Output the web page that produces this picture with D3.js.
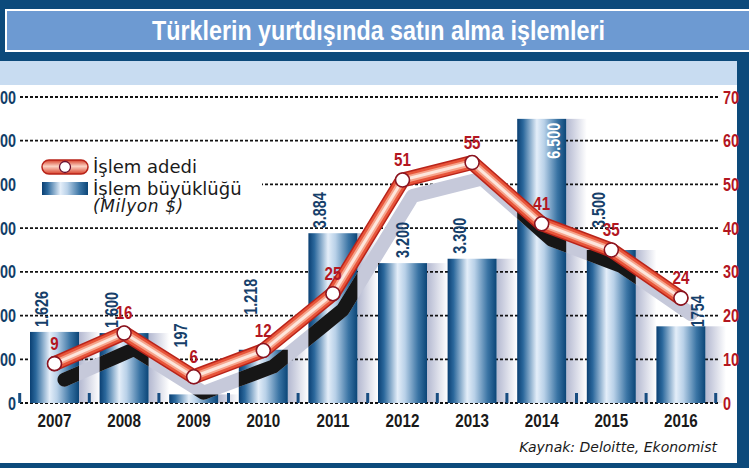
<!DOCTYPE html>
<html>
<head>
<meta charset="utf-8">
<script src="https://cdn.jsdelivr.net/npm/d3@7/dist/d3.min.js"></script>
<style>
  body { margin: 0; background: #fff; }
  .cond { font-family: "Liberation Sans", Arial, sans-serif; font-weight: bold; }
  .sans { font-family: "DejaVu Sans", Verdana, sans-serif; }
</style>
</head>
<body>
<svg id="chart"></svg>
<script>
// ---- data ----
var years = ["2007", "2008", "2009", "2010", "2011", "2012", "2013", "2014", "2015", "2016"];
var dealSize = [1626, 1600, 197, 1218, 3884, 3200, 3300, 6500, 3500, 1754];   // Milyon $
var dealSizeLabels = ["1.626", "1.600", "197", "1.218", "3.884", "3.200", "3.300", "6.500", "3.500", "1754"];
var dealCount = [9, 16, 6, 12, 25, 51, 55, 41, 35, 24];
var leftTicks = [0, 1000, 2000, 3000, 4000, 5000, 6000, 7000];
var rightTicks = [0, 10, 20, 30, 40, 50, 60, 70];

var W = 749, H = 468;
var plot = {left: 20, right: 719, top: 97, bottom: 403};
var squeeze = 0.8; // condensed look for the bold numbers
// where the printed value label of a bar sits (default: left part, just above the bar)
var labelSpot = {"2012": "mid", "2014": "inside", "2016": "right"};
var labelLift = {"2009": 47, "2010": 35, "2015": 22, "2016": -1};

var svg = d3.select("#chart").attr("width", W).attr("height", H);
var defs = svg.append("defs");

// place a condensed text: translate, optional rotate, then horizontal squeeze
function place(sel, fx, fy, rot) {
  sel.attr("transform", function(d, i) {
    return "translate(" + fx(d, i) + "," + fy(d, i) + ")" + (rot ? " rotate(" + rot + ")" : "") +
      " scale(" + squeeze + ",1)";
  });
}

// bar gradient (cylinder look)
var g1 = defs.append("linearGradient").attr("id", "barGrad").attr("x1", 0).attr("x2", 1).attr("y1", 0).attr("y2", 0);
[[0, "#0a3f72"], [0.12, "#2b689c"], [0.4, "#e4eef9"], [0.55, "#b9d1e8"], [0.82, "#3a74a4"], [1, "#0b4577"]]
  .forEach(function(s) { g1.append("stop").attr("offset", s[0]).attr("stop-color", s[1]); });

// side shadow gradient
var g2 = defs.append("linearGradient").attr("id", "sideGrad").attr("x1", 0).attr("x2", 1).attr("y1", 0).attr("y2", 0);
[[0, "#b3b8d0"], [1, "#ffffff"]]
  .forEach(function(s) { g2.append("stop").attr("offset", s[0]).attr("stop-color", s[1]); });

// pill gradient for legend
var g3 = defs.append("linearGradient").attr("id", "pillGrad").attr("x1", 0).attr("x2", 0).attr("y1", 0).attr("y2", 1);
[[0, "#d8402a"], [0.45, "#fbd3c4"], [1, "#d8402a"]]
  .forEach(function(s) { g3.append("stop").attr("offset", s[0]).attr("stop-color", s[1]); });

// ---- frame ----
svg.append("rect").attr("width", W).attr("height", H).attr("fill", "#0c4a7b");
svg.append("rect").attr("x", 0).attr("y", 85).attr("width", 737).attr("height", 378).attr("fill", "#fff");
svg.append("rect").attr("x", 0).attr("y", 61).attr("width", 737).attr("height", 24).attr("fill", "#c8dcf1");
svg.append("rect").attr("x", 6).attr("y", 10).attr("width", 760).attr("height", 41)
  .attr("fill", "#6d9ad2").attr("stroke", "#fff").attr("stroke-width", 2);

svg.append("text")
  .attr("class", "cond")
  .attr("x", 152).attr("y", 40)
  .attr("fill", "#fff")
  .attr("textLength", 453)
  .attr("lengthAdjust", "spacingAndGlyphs")
  .style("font-size", "27px")
  .text("Türklerin yurtdışında satın alma işlemleri");

// ---- scales ----
var x = d3.scaleBand()
  .domain(years)
  .range([30, 30 + 10 * 69.6 - 20.6])
  .paddingInner(0.296)
  .paddingOuter(0);

var yL = d3.scaleLinear().domain([0, 7000]).range([plot.bottom, plot.top]);
var yR = d3.scaleLinear().domain([0, 70]).range([plot.bottom, plot.top]);

var gap = x.step() - x.bandwidth();

// side shadows of bars (drawn under gridlines)
svg.append("g").selectAll("rect")
  .data(years)
  .join("rect")
  .attr("x", function(d) { return x(d) + x.bandwidth(); })
  .attr("y", function(d, i) { return yL(dealSize[i]); })
  .attr("width", gap)
  .attr("height", function(d, i) { return yL(0) - yL(dealSize[i]); })
  .attr("fill", "url(#sideGrad)");

// gridlines
svg.append("g").selectAll("line")
  .data(rightTicks)
  .join("line")
  .attr("x1", plot.left).attr("x2", plot.right)
  .attr("y1", function(d) { return yR(d); })
  .attr("y2", function(d) { return yR(d); })
  .attr("stroke", "#111")
  .attr("stroke-width", 1.8)
  .attr("stroke-dasharray", "3,2");

// left axis (cut off by the page edge, as in the print)
svg.append("g").selectAll("text")
  .data(leftTicks)
  .join("text")
  .attr("class", "cond")
  .attr("text-anchor", "end")
  .attr("fill", "#123e68")
  .style("font-size", "18px")
  .text(function(d) { return d === 0 ? "0" : d3.format(",")(d).replace(",", "."); })
  .call(place, function() { return 16; }, function(d) { return yL(d) + 6.5; });

// right axis
svg.append("g").selectAll("text")
  .data(rightTicks)
  .join("text")
  .attr("class", "cond")
  .attr("fill", "#b3161f")
  .style("font-size", "18px")
  .text(function(d) { return d; })
  .call(place, function() { return 723; }, function(d) { return yR(d) + 6.5; });

// bars
svg.append("g").selectAll("rect")
  .data(years)
  .join("rect")
  .attr("x", function(d) { return x(d); })
  .attr("y", function(d, i) { return yL(dealSize[i]); })
  .attr("width", x.bandwidth())
  .attr("height", function(d, i) { return yL(0) - yL(dealSize[i]); })
  .attr("fill", "url(#barGrad)");

// small baseline ticks between the bars
var tickXs = years.map(function(d) { return x(d) - gap / 2; });
tickXs.push(x(years[years.length - 1]) + x.bandwidth() + gap / 2);
svg.append("g").selectAll("rect")
  .data(tickXs)
  .join("rect")
  .attr("x", function(d) { return d - 1.5; })
  .attr("y", plot.bottom - 10)
  .attr("width", 3)
  .attr("height", 10)
  .attr("fill", "#184d80");

// clip so the line shadow turns black over the bars
var clip = defs.append("clipPath").attr("id", "barClip");
clip.selectAll("rect")
  .data(years)
  .join("rect")
  .attr("x", function(d) { return x(d); })
  .attr("y", function(d, i) { return yL(dealSize[i]); })
  .attr("width", x.bandwidth())
  .attr("height", function(d, i) { return yL(0) - yL(dealSize[i]); });

// ---- line: number of deals ----
var pts = years.map(function(d, i) { return [x(d) + x.bandwidth() / 2, yR(dealCount[i])]; });
var line = d3.line().curve(d3.curveLinear);
var shadowPts = pts.map(function(p) { return [p[0] + 10, p[1] + 16]; });

svg.append("path")
  .attr("d", line(shadowPts))
  .attr("fill", "none")
  .attr("stroke", "#c6c9da")
  .attr("stroke-width", 14)
  .attr("stroke-linejoin", "round")
  .attr("stroke-linecap", "round");

svg.append("path")
  .attr("d", line(shadowPts))
  .attr("clip-path", "url(#barClip)")
  .attr("fill", "none")
  .attr("stroke", "#161616")
  .attr("stroke-width", 14)
  .attr("stroke-linejoin", "round")
  .attr("stroke-linecap", "round");

// bar value labels (rotated), above the shadow, under the red line
function spot(d) { return labelSpot[d] || "left"; }
function lift(d) { return labelLift[d] !== undefined ? labelLift[d] : 5; }
svg.append("g").selectAll("text")
  .data(years)
  .join("text")
  .attr("class", "cond")
  .attr("text-anchor", function(d) { return spot(d) === "inside" ? "end" : "start"; })
  .attr("fill", function(d) { return spot(d) === "inside" ? "#fff" : "#163f6a"; })
  .style("font-size", "18px")
  .text(function(d, i) { return dealSizeLabels[i]; })
  .call(place,
    function(d) {
      var s = spot(d);
      if (s === "inside") return x(d) + x.bandwidth() - 6;
      if (s === "mid") return x(d) + x.bandwidth() / 2 + 6.5;
      if (s === "right") return x(d) + x.bandwidth() - 1;
      return x(d) + 18;
    },
    function(d, i) {
      if (spot(d) === "inside") return yL(dealSize[i]) + 4;
      return yL(dealSize[i]) - lift(d);
    },
    -90);

[[15, "#b8241a"], [12, "#e8553a"], [7, "#f6a48c"], [3, "#fde6dc"]].forEach(function(s) {
  svg.append("path")
    .attr("d", line(pts))
    .attr("fill", "none")
    .attr("stroke", s[1])
    .attr("stroke-width", s[0])
    .attr("stroke-linejoin", "round")
    .attr("stroke-linecap", "round");
});

svg.append("g").selectAll("circle")
  .data(pts)
  .join("circle")
  .attr("cx", function(d) { return d[0]; })
  .attr("cy", function(d) { return d[1]; })
  .attr("r", 7)
  .attr("fill", "#fff")
  .attr("stroke", "#8a1420")
  .attr("stroke-width", 1.6);

svg.append("g").selectAll("text")
  .data(pts)
  .join("text")
  .attr("class", "cond")
  .attr("text-anchor", "middle")
  .attr("fill", "#b3161f")
  .style("font-size", "19px")
  .text(function(d, i) { return dealCount[i]; })
  .call(place, function(d) { return d[0]; }, function(d) { return d[1] - 14; });

// x axis year labels
svg.append("g").selectAll("text")
  .data(years)
  .join("text")
  .attr("class", "cond")
  .attr("text-anchor", "middle")
  .attr("fill", "#1a1a1a")
  .style("font-size", "19px")
  .text(function(d) { return d; })
  .call(place, function(d) { return x(d) + x.bandwidth() / 2; }, function() { return 427; });

// ---- legend ----
var lg = svg.append("g");
lg.append("rect").attr("x", 20).attr("y", 148).attr("width", 242).attr("height", 76).attr("fill", "#fff");
lg.append("rect").attr("x", 42).attr("y", 160).attr("width", 46).attr("height", 14).attr("rx", 7)
  .attr("fill", "url(#pillGrad)").attr("stroke", "#b8241a").attr("stroke-width", 1.5);
lg.append("circle").attr("cx", 65).attr("cy", 167).attr("r", 5.5)
  .attr("fill", "#fff").attr("stroke", "#6a1030").attr("stroke-width", 1.3);
lg.append("rect").attr("x", 42).attr("y", 182).attr("width", 46).attr("height", 13).attr("fill", "url(#barGrad)");
lg.append("text").attr("class", "sans").attr("x", 93).attr("y", 173).attr("fill", "#1a1a1a")
  .style("font-size", "18px").text("İşlem adedi");
lg.append("text").attr("class", "sans").attr("x", 93).attr("y", 195).attr("fill", "#1a1a1a")
  .style("font-size", "18px").text("İşlem büyüklüğü");
lg.append("text").attr("class", "sans").attr("x", 93).attr("y", 212).attr("fill", "#1a1a1a")
  .style("font-size", "17px").style("font-style", "italic").style("letter-spacing", "0.6px").text("(Milyon $)");

// source
svg.append("text")
  .attr("class", "sans")
  .attr("x", 717).attr("y", 452)
  .attr("text-anchor", "end")
  .attr("fill", "#1a1a1a")
  .style("font-size", "14px")
  .style("font-style", "italic")
  .text("Kaynak: Deloitte, Ekonomist");
</script>
</body>
</html>
